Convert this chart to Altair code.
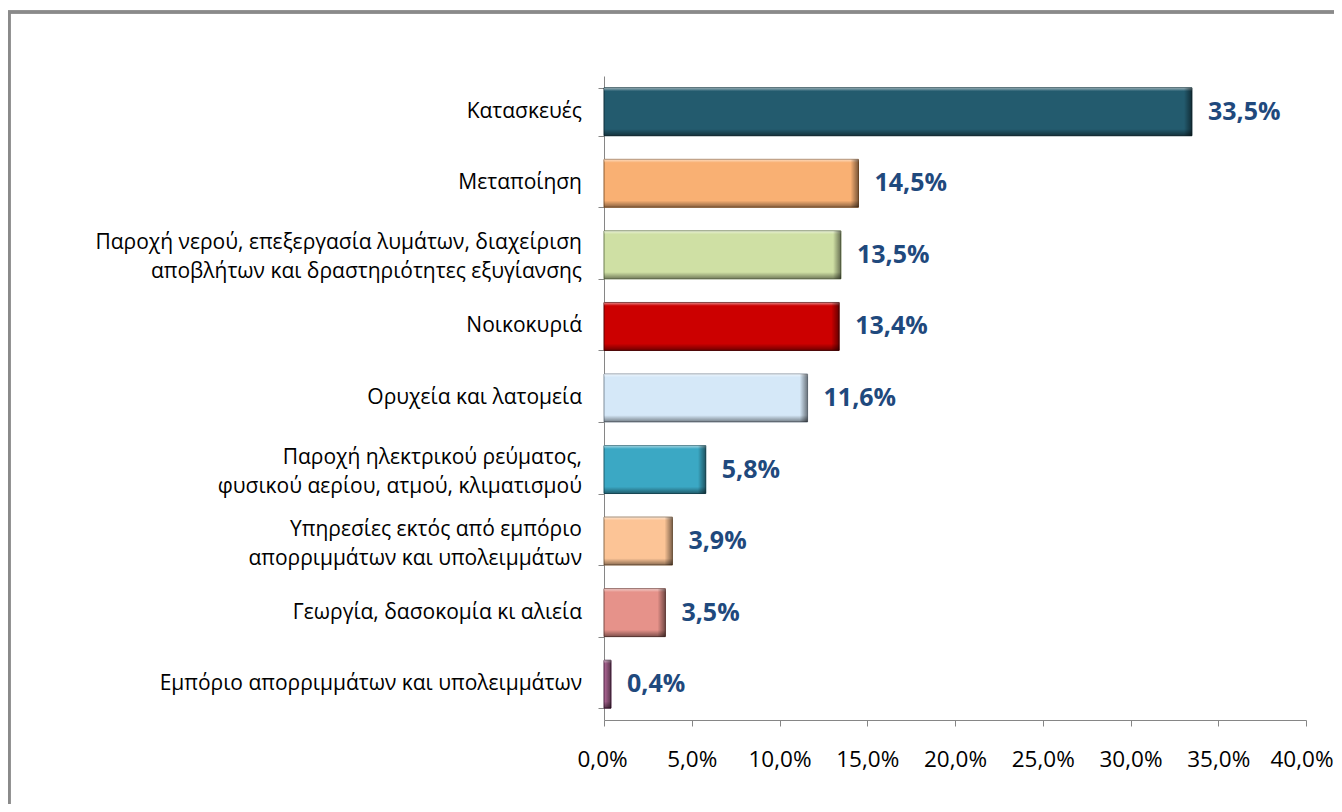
import altair as alt
import pandas as pd

categories = [
    "Κατασκευές",
    "Μεταποίηση",
    "Παροχή νερού, επεξεργασία λυμάτων, διαχείριση|αποβλήτων και δραστηριότητες εξυγίανσης",
    "Νοικοκυριά",
    "Ορυχεία και λατομεία",
    "Παροχή ηλεκτρικού ρεύματος,|φυσικού αερίου, ατμού, κλιματισμού",
    "Υπηρεσίες εκτός από εμπόριο|απορριμμάτων και υπολειμμάτων",
    "Γεωργία, δασοκομία κι αλιεία",
    "Εμπόριο απορριμμάτων και υπολειμμάτων",
]
values = [33.5, 14.5, 13.5, 13.4, 11.6, 5.8, 3.9, 3.5, 0.4]
colors = ["#235B6E", "#F9B073", "#CFE0A4", "#CC0000", "#D5E8F8",
          "#3BA8C4", "#FCC496", "#E6928A", "#B46A9A"]
edges = ["#0f2f3a", "#8a5a30", "#6d7d50", "#5a0000", "#7f8c99",
         "#1d5a6a", "#8a6a4a", "#7a4a45", "#4a2040"]

df = pd.DataFrame({"cat": categories, "val": values, "color": colors, "edge": edges})

X_MAX = 40
PLOT_W = 702
FONT = "Open Sans"

y_enc = alt.Y("cat:N", sort=categories, title=None,
              scale=alt.Scale(paddingInner=0.33, paddingOuter=0.165),
              axis=alt.Axis(labels=False, tickBand="extent", tickSize=6,
                            tickColor="#868686", domainColor="#868686"))
x_enc = alt.X("val:Q", title=None,
              scale=alt.Scale(domain=[0, X_MAX]),
              axis=alt.Axis(values=[0, 5, 10, 15, 20, 25, 30, 35, 40], grid=False,
                            labelExpr="replace(format(datum.value, '.1f'), '.', ',') + '%'",
                            labelFont=FONT, labelFontSize=22.5, labelColor="#000000",
                            labelFlush=True, labelFlushOffset=27,
                            labelPadding=22, tickSize=6, tickColor="#868686",
                            domainColor="#868686"))

ysimple = alt.Y("cat:N", sort=categories)

bars = alt.Chart(df).mark_bar(strokeWidth=1).encode(
    y=y_enc, x=x_enc,
    color=alt.Color("color:N", scale=None),
    stroke=alt.Stroke("edge:N", scale=None),
)

vshade = alt.Chart(df).mark_bar(
    color=alt.Gradient(gradient="linear", x1=0, y1=0, x2=0, y2=1, stops=[
        alt.GradientStop(offset=0, color="rgba(255,255,255,0.55)"),
        alt.GradientStop(offset=0.07, color="rgba(255,255,255,0)"),
        alt.GradientStop(offset=0.86, color="rgba(0,0,0,0)"),
        alt.GradientStop(offset=1, color="rgba(0,0,0,0.45)"),
    ])).encode(y=ysimple, x="val:Q")

rshade = alt.Chart(df).transform_calculate(
    x0="max(0, datum.val - 0.45)"
).mark_bar(
    color=alt.Gradient(gradient="linear", x1=0, y1=0, x2=1, y2=0, stops=[
        alt.GradientStop(offset=0, color="rgba(0,0,0,0)"),
        alt.GradientStop(offset=1, color="rgba(0,0,0,0.5)"),
    ])).encode(y=ysimple, x="x0:Q", x2="val:Q")

labels = alt.Chart(df).transform_calculate(
    lab="replace(format(datum.val, '.1f'), '.', ',') + '%'"
).mark_text(align="left", baseline="middle", dx=16, font=FONT, fontSize=25,
            fontWeight="bold", color="#1F497D").encode(
    y=ysimple, x="val:Q", text="lab:N")

cat_single = alt.Chart(df).transform_filter(
    "indexof(datum.cat, '|') < 0"
).mark_text(align="right", baseline="middle", font=FONT, fontSize=21,
            color="#000000").encode(
    y=ysimple, x=alt.value(-22), text="cat:N")

cat_multi = alt.Chart(df).transform_filter(
    "indexof(datum.cat, '|') >= 0"
).mark_text(align="right", baseline="middle", font=FONT, fontSize=21,
            color="#000000", lineBreak="|", lineHeight=29, dy=-11.5).encode(
    y=ysimple, x=alt.value(-22), text="cat:N")

border = alt.Chart(df).mark_rect(filled=False, stroke="#8a8a8a", strokeWidth=2.5).encode(
    x=alt.value(-595), x2=alt.value(800), y=alt.value(-64), y2=alt.value(900))

chart = alt.layer(border, bars, vshade, rshade, labels, cat_single, cat_multi).properties(
    width=PLOT_W, height=644,
    autosize=alt.AutoSizeParams(type="none"),
    padding={"left": 596, "top": 68, "right": 28, "bottom": 84},
).configure_view(stroke=None)

chart.save("out.html", embed_options={"renderer": "svg", "actions": False})
